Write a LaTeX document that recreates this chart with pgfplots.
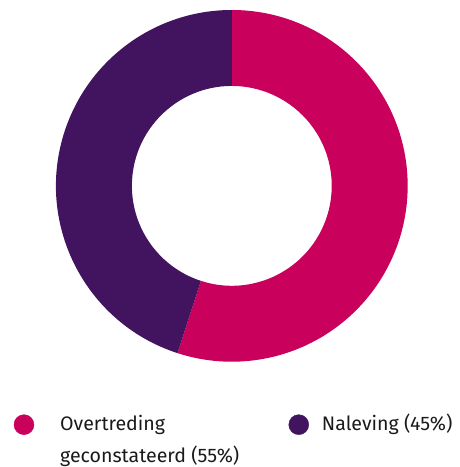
\documentclass[border=0pt]{standalone}
\usepackage{pgfplots}
\usepackage{pgfplotstable}
\pgfplotsset{compat=1.18}
\usepackage{fontspec}
\setmainfont{Fira Sans}
\definecolor{robijn}{HTML}{CA005D}
\definecolor{violet}{HTML}{42145F}
\definecolor{txt}{HTML}{1A1A1A}
\pgfplotstableread{
label value
Overtreding 55
Naleving 45
}\datatable
\begin{document}
\begin{tikzpicture}
\pgfplotstablegetelem{0}{value}\of\datatable \let\va\pgfplotsretval
\pgfplotstablegetelem{1}{value}\of\datatable \let\vb\pgfplotsretval
\pgfmathsetmacro{\aStart}{90}
\pgfmathsetmacro{\aMid}{90-\va*3.6}
\pgfmathsetmacro{\aEnd}{\aMid-\vb*3.6}
\begin{axis}[
  scale only axis, width=460bp, height=467bp,
  xmin=0, xmax=460, ymin=0, ymax=467, y dir=reverse,
  hide axis, clip=false,
]
\path (axis cs:0,0) rectangle (axis cs:460,467);
\coordinate (c) at (axis cs:232,186);
\fill[robijn] ([shift={(\aStart:176bp)}]c) arc[start angle=\aStart, end angle=\aMid, radius=176bp]
  -- ([shift={(\aMid:100bp)}]c) arc[start angle=\aMid, end angle=\aStart, radius=100bp] -- cycle;
\fill[violet] ([shift={(\aMid:176bp)}]c) arc[start angle=\aMid, end angle=\aEnd, radius=176bp]
  -- ([shift={(\aEnd:100bp)}]c) arc[start angle=\aEnd, end angle=\aMid, radius=100bp] -- cycle;
\addplot[only marks, mark=*, mark size=10bp, color=robijn] coordinates {(24,425)};
\addplot[only marks, mark=*, mark size=10bp, color=violet] coordinates {(299,425)};
\node[anchor=west, inner sep=0pt, text=txt, font=\fontsize{19.6bp}{22bp}\selectfont] at (axis cs:60,425) {Overtreding};
\node[anchor=west, inner sep=0pt, text=txt, font=\fontsize{19.6bp}{22bp}\selectfont] at (axis cs:60,457) {geconstateerd (55\%)};
\node[anchor=west, inner sep=0pt, text=txt, font=\fontsize{19.6bp}{22bp}\selectfont] at (axis cs:322,425) {Naleving (45\%)};
\end{axis}
\end{tikzpicture}
\end{document}
